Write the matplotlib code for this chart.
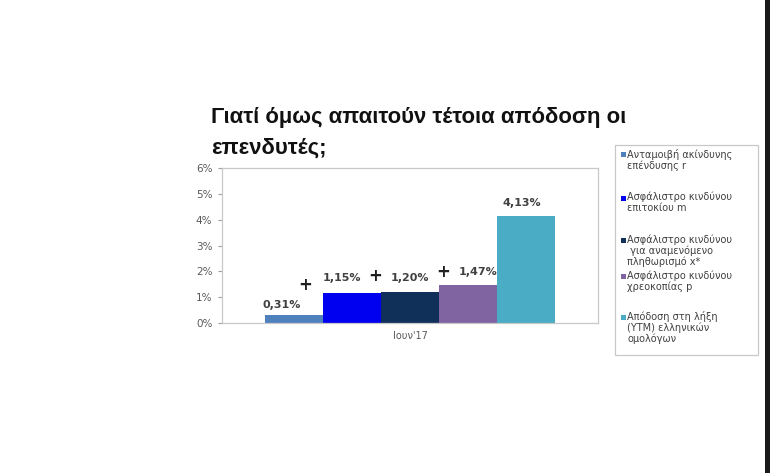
import matplotlib
matplotlib.use("Agg")
import matplotlib.pyplot as plt
from matplotlib.patches import Rectangle

# ---- data ----
category = "Ιουν'17"
series_names = [
    "Ανταμοιβή ακίνδυνης\nεπένδυσης r",
    "Ασφάλιστρο κινδύνου\nεπιτοκίου m",
    "Ασφάλιστρο κινδύνου\n για αναμενόμενο\nπληθωρισμό x*",
    "Ασφάλιστρο κινδύνου\nχρεοκοπίας p",
    "Απόδοση στη λήξη\n(YTM) ελληνικών\nομολόγων",
]
values = [0.31, 1.15, 1.20, 1.47, 4.13]
y_ticks = [0, 1, 2, 3, 4, 5, 6]
title_lines = ["Γιατί όμως απαιτούν τέτοια απόδοση οι", "επενδυτές;"]

# ---- style ----
colors = ["#4F81BD", "#0000F0", "#10305A", "#8064A2", "#4BACC6"]
W, H = 770, 473
fig = plt.figure(figsize=(W / 100, H / 100), dpi=100)
fig.patch.set_facecolor("white")

def fx(px):
    return px / W

def fy(py):
    return 1 - py / H

ax = fig.add_axes([fx(222), fy(323), fx(598) - fx(222), fy(168) - fy(323)])

offsets = [-2, -1, 0, 1, 2]
bars = ax.bar(offsets, values, width=1.0, color=colors, edgecolor="none", zorder=2)
ax.set_xlim(-3.24, 3.24)
ax.set_ylim(0, 6)
ax.set_yticks(y_ticks)
ax.set_yticklabels([f"{t}%" for t in y_ticks], fontsize=7.5, color="#595959",
                   family="DejaVu Sans")
ax.set_xticks([0])
ax.set_xticklabels([category], fontsize=7, color="#595959", family="DejaVu Sans")
for s in ax.spines.values():
    s.set_color("#C8C8C8")
    s.set_linewidth(0.9)
ax.tick_params(axis="y", length=3, color="#A0A0A0", pad=4)
ax.tick_params(axis="x", length=0, pad=6)

# value labels (offsets in points from bar top centre)
label_off = [(-8.6, 7.2), (-7.2, 10.8), (0, 10), (7.2, 9.4), (-3, 9.4)]
for b, v, (dx, dy) in zip(bars, values, label_off):
    txt = f"{v:.2f}".replace(".", ",") + "%"
    ax.annotate(txt, xy=(b.get_x() + b.get_width() / 2, v), xytext=(dx, dy),
                textcoords="offset points", ha="center", va="center",
                fontsize=8, fontweight="bold", color="#404040", family="DejaVu Sans")

# plus signs between components
plus_pos = [(-1.81, 1.47), (-0.60, 1.82), (0.57, 1.97)]
for px_, py_ in plus_pos:
    ax.text(px_, py_, "+", ha="center", va="center", fontsize=12,
            fontweight="bold", color="#202020", family="DejaVu Sans")

# title
fig.text(fx(211), fy(118), title_lines[0], ha="left", va="center", fontsize=15.9,
         fontweight="bold", color="#111111", family="Liberation Sans")
fig.text(fx(211), fy(148), title_lines[1], ha="left", va="center", fontsize=15.9,
         fontweight="bold", color="#111111", family="Liberation Sans")

# legend (manual layout)
fig.patches.append(Rectangle((fx(615), fy(355)), fx(758) - fx(615), fy(145) - fy(355),
                             transform=fig.transFigure, facecolor="white",
                             edgecolor="#C8C8C8", linewidth=0.9))
entry_y = [155, 198, 240, 276, 317]
for name, c, ey in zip(series_names, colors, entry_y):
    fig.patches.append(Rectangle((fx(621), fy(ey + 2.5)), fx(5), 5 / H,
                                 transform=fig.transFigure, facecolor=c,
                                 edgecolor="none"))
    fig.text(fx(627), fy(ey - 6), name, ha="left", va="top", fontsize=7,
             color="#404040", family="DejaVu Sans", linespacing=1.08)

# dark strip on the right edge
fig.patches.append(Rectangle((fx(765), 0), 1 - fx(765), 1, transform=fig.transFigure,
                             facecolor="#1A1A1A", edgecolor="none"))

fig.savefig("out.png", dpi=100)
